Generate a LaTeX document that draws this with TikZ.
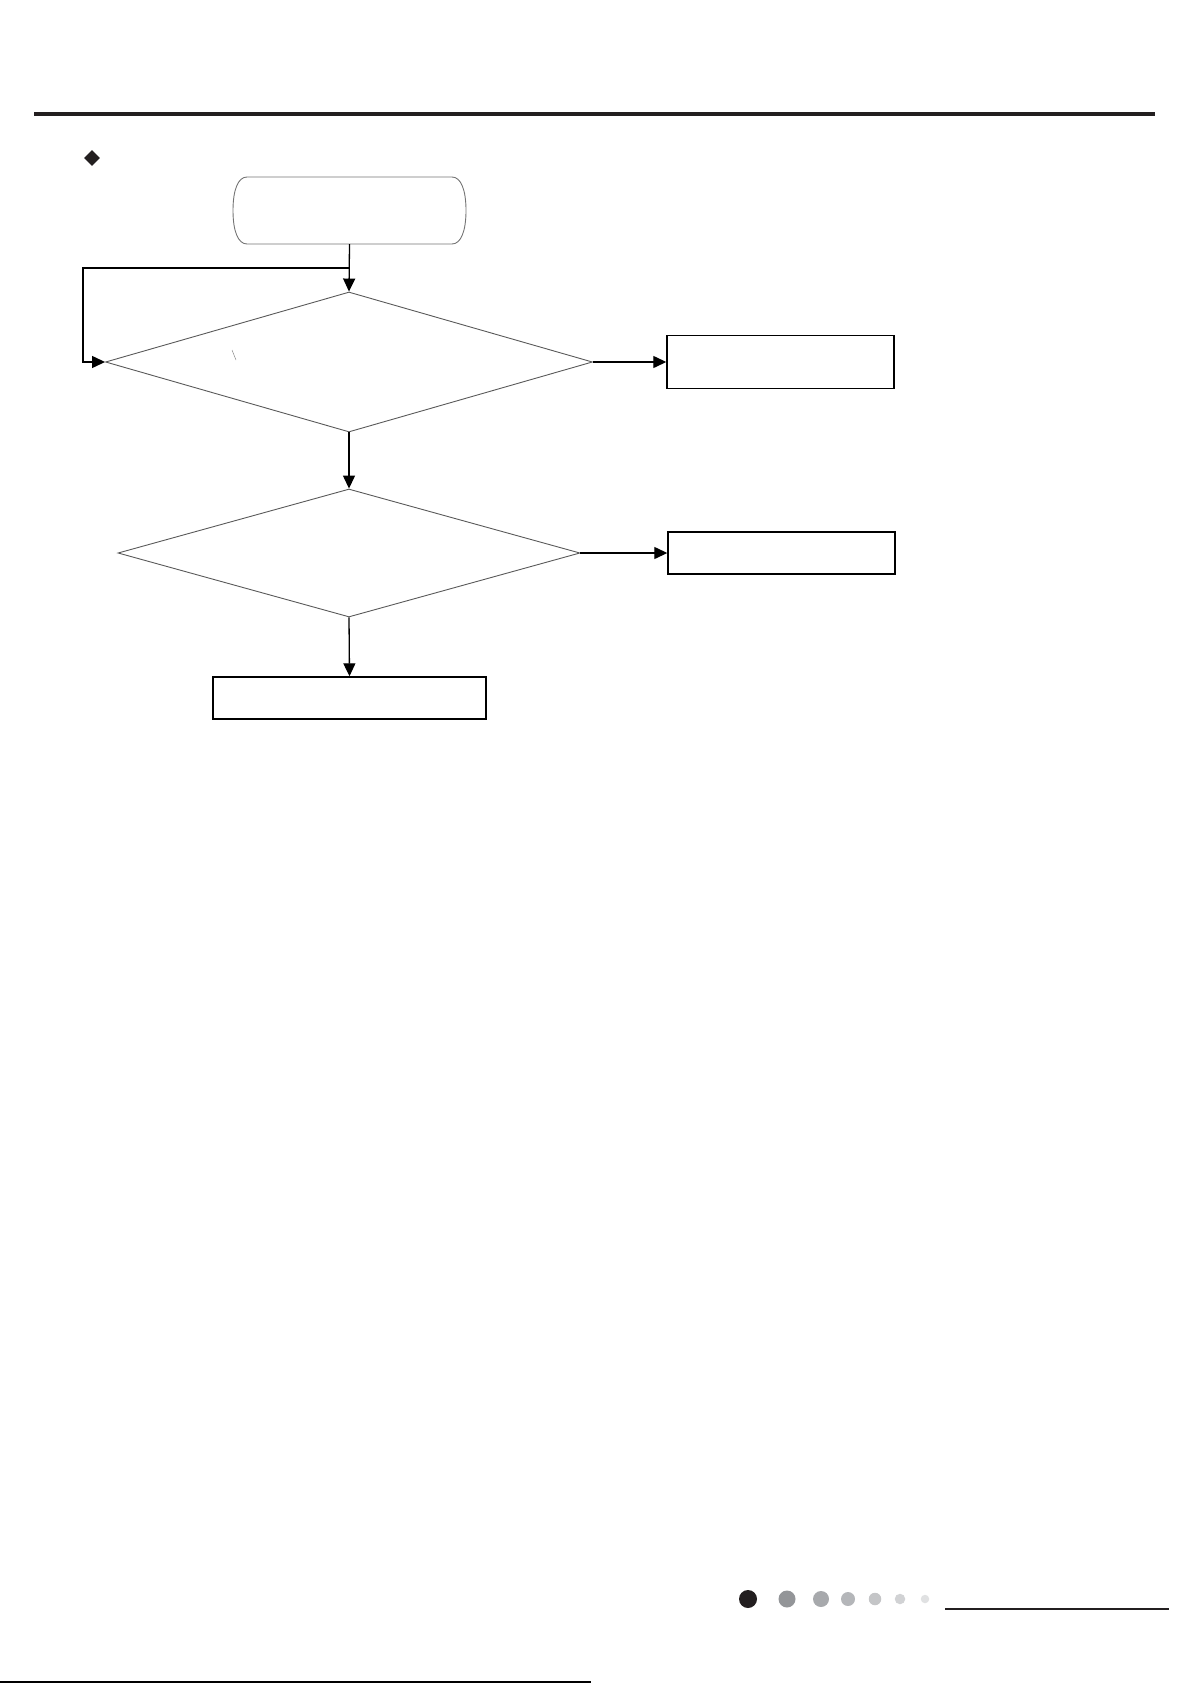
\documentclass[tikz,border=0pt]{standalone}
\usetikzlibrary{shapes.geometric,arrows.meta}
\definecolor{ink}{RGB}{35,31,32}
\definecolor{dotA}{RGB}{147,149,152}
\definecolor{dotB}{RGB}{167,169,172}
\definecolor{dotC}{RGB}{180,182,185}
\definecolor{dotD}{RGB}{196,197,199}
\definecolor{dotE}{RGB}{209,210,212}
\definecolor{dotF}{RGB}{224,225,226}
\begin{document}
\begin{tikzpicture}[x=1pt,y=-1pt,
  conn/.style={line width=1.3pt, -{Triangle[length=13pt,width=12pt]}},
  dec/.style={diamond, draw=black!65, line width=0.9pt, inner sep=0pt},
  procbox/.style={rectangle, draw=black, line width=1.4pt, inner sep=0pt},
  termline/.style={draw=black!55, line width=0.9pt},
  pagedot/.style={circle, inner sep=0pt}]
\useasboundingbox (0,0) rectangle (1191,1685);
% header
\draw[line width=4pt, ink] (34,114) -- (1155,114);
\node[diamond, fill=ink, inner sep=0pt, minimum width=16pt, minimum height=16pt] (bullet) at (92,158) {};
% flowchart
\node[rectangle, inner sep=0pt, minimum width=233pt, minimum height=67pt] (start) at (349.5,210.5) {};
\draw[termline] (247,177) -- (452,177) .. controls (461,177) and (466,190) .. (466,210.5)
  .. controls (466,231) and (461,244) .. (452,244) -- (247,244)
  .. controls (238,244) and (233,231) .. (233,210.5)
  .. controls (233,190) and (238,177) .. (247,177) -- cycle;
\node[dec, minimum width=487pt, minimum height=140pt] (d1) at (349,362) {};
\node[procbox, minimum width=227pt, minimum height=53pt] (b1) at (780.5,362) {};
\node[dec, minimum width=462pt, minimum height=128pt] (d2) at (349,553) {};
\node[procbox, minimum width=227pt, minimum height=42pt] (b2) at (781.5,553) {};
\node[procbox, minimum width=273pt, minimum height=42pt] (b3) at (349.5,698) {};
\coordinate (j) at (349,268);
\coordinate (lp) at (83,268);
\draw[conn] (start.south) -- (d1.north);
\draw[conn] (j) -- (lp) |- (d1.west);
\draw[conn] (d1.east) -- (b1.west);
\draw[conn] (d1.south) -- (d2.north);
\draw[conn] (d2.east) -- (b2.west);
\draw[conn] (d2.south) -- (b3.north);
\draw[black!45, line width=0.5pt] (232,350) -- (236,360);
% footer
\node[pagedot, fill=ink, minimum size=18pt] (p1) at (748,1599) {};
\node[pagedot, fill=dotA, minimum size=17pt] (p2) at (787,1599) {};
\node[pagedot, fill=dotB, minimum size=16pt] (p3) at (821,1599) {};
\node[pagedot, fill=dotC, minimum size=14pt] (p4) at (848,1599) {};
\node[pagedot, fill=dotD, minimum size=12.5pt] (p5) at (875,1599) {};
\node[pagedot, fill=dotE, minimum size=10.5pt] (p6) at (900,1599) {};
\node[pagedot, fill=dotF, minimum size=8.5pt] (p7) at (925,1599) {};
\draw[line width=2.5pt, ink] (945,1609) -- (1169,1609);
\draw[line width=1.5pt, black] (0,1682) -- (591,1682);
\end{tikzpicture}
\end{document}
